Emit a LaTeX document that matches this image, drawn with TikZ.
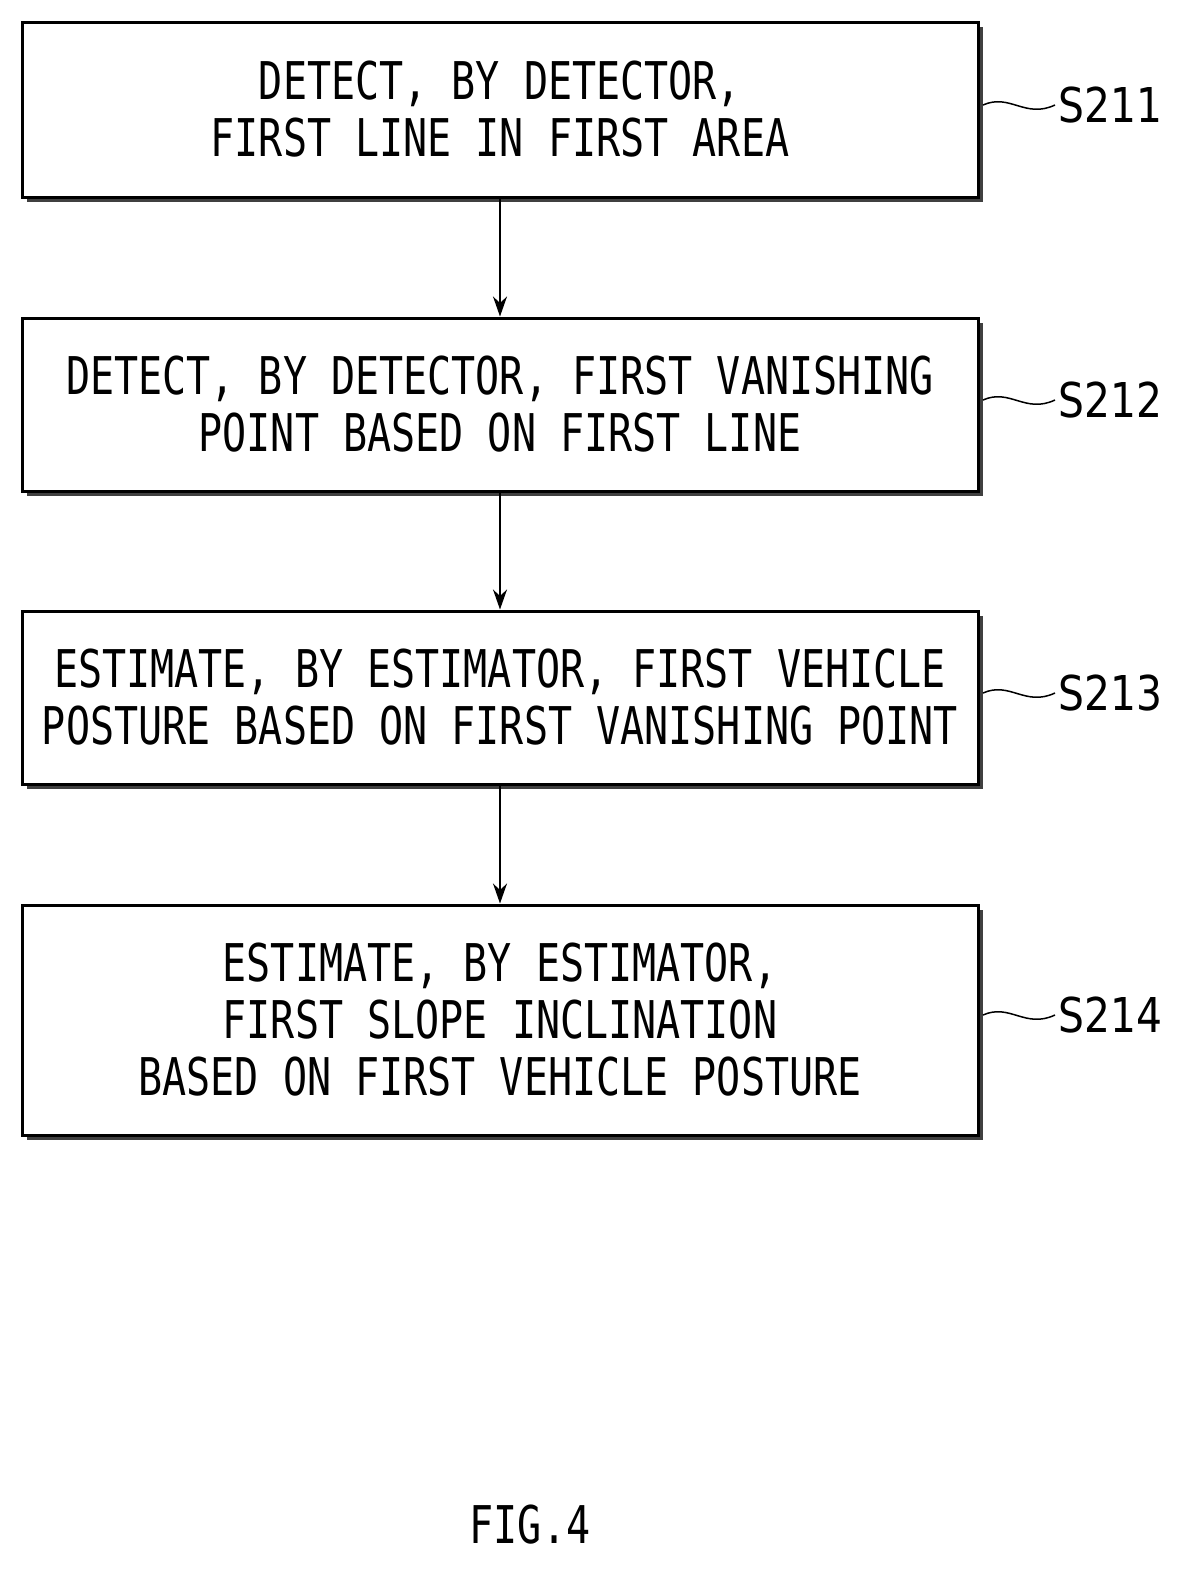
\documentclass[tikz,border=0pt]{standalone}
\usepackage{fontspec}
\usepackage{tikz}
\usetikzlibrary{positioning,arrows.meta}
\newfontfamily\stepfont[FakeStretch=0.77]{DejaVu Sans Mono}
\newfontfamily\tagfont[FakeStretch=0.85]{DejaVu Sans}
\tikzset{
  stepbox/.style={draw, line width=3pt, fill=white, minimum width=956pt, align=center,
    font=\stepfont\fontsize{52}{57}\selectfont, inner sep=0pt},
  tagtext/.style={font=\tagfont\fontsize{48}{52}\selectfont, anchor=west},
  flow/.style={line width=2pt, -{Stealth[length=20pt,width=14pt]}},
  wave/.style={line width=1.5pt}
}
\begin{document}
\begin{tikzpicture}[x=1pt,y=-1pt]
\useasboundingbox (0,0) rectangle (1182,1575);
% boxes with shadow
\foreach \ytop/\ybot/\n in {22/197/a,318/491/b,611/784/c,905/1135/d}{
  \pgfmathsetmacro{\boxh}{\ybot-\ytop}
  \pgfmathsetmacro{\boxmid}{(\ytop+\ybot)/2}
  \fill[black!75] (27,\ytop+5) rectangle (983,\ybot+5);
  \node[stepbox, minimum height=\boxh pt] (\n) at (500,\boxmid) {};
}
\node[font=\stepfont\fontsize{52}{57}\selectfont, align=center] (ta) at (a) {DETECT, BY DETECTOR,\\FIRST LINE IN FIRST AREA};
\node[font=\stepfont\fontsize{52}{57}\selectfont, align=center] (tb) at (b) {DETECT, BY DETECTOR, FIRST VANISHING\\POINT BASED ON FIRST LINE};
\node[font=\stepfont\fontsize{52}{57}\selectfont, align=center] (tc) at (c) {ESTIMATE, BY ESTIMATOR, FIRST VEHICLE\\POSTURE BASED ON FIRST VANISHING POINT};
\node[font=\stepfont\fontsize{52}{57}\selectfont, align=center] (td) at (d) {ESTIMATE, BY ESTIMATOR,\\FIRST SLOPE INCLINATION\\BASED ON FIRST VEHICLE POSTURE};
% arrows
\draw[flow] (a.south) -- (b.north);
\draw[flow] (b.south) -- (c.north);
\draw[flow] (c.south) -- (d.north);
% step tags
\foreach \n/\y/\s in {a/105/S211,b/400/S212,c/693/S213,d/1015/S214}{
  \node[tagtext] (s\n) at (1055,\y) {\s};
  \draw[wave] (983,\y) .. controls (1010,\y-12) and (1025,\y+14) .. (s\n.west);
}
\node[font=\stepfont\fontsize{52}{57}\selectfont] (fig) at (530,1525) {FIG.4};
\end{tikzpicture}
\end{document}
